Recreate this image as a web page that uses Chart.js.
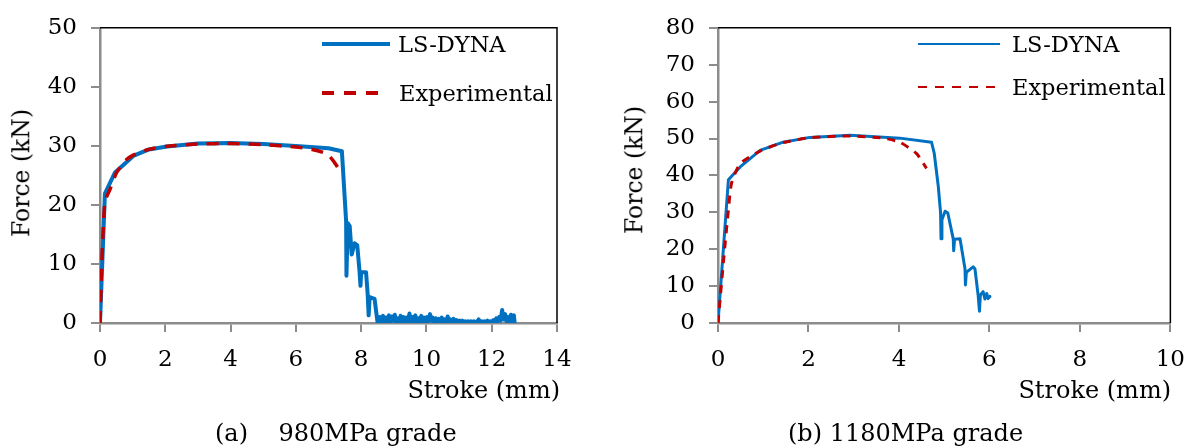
<!DOCTYPE html>
<html lang="en">
<head>
    <meta charset="UTF-8">
    <title>Force vs Stroke</title>
    <script src="https://cdn.jsdelivr.net/npm/chart.js"></script>
    <style>
        body { margin: 0; width: 1199px; height: 447px; background: #fff; position: relative; overflow: hidden;
               font-family: 'DejaVu Serif', 'Liberation Serif', serif; color: #000; }
        canvas { position: absolute; top: 0; }
        .txt { position: absolute; white-space: pre; line-height: 1; transform: translateY(-50%); }
        .ytitle { position: absolute; white-space: pre; line-height: 1; transform: translate(-50%, -50%) rotate(-90deg); }
        .leg { position: absolute; font-size: 22.5px; }
        svg { position: absolute; }
    </style>
</head>
<body>
    <canvas id="chartA" width="600" height="447" style="left:0"></canvas>
    <canvas id="chartB" width="599" height="447" style="left:600px"></canvas>

    <!-- axis titles -->
    <div class="ytitle" style="left:22px; top:173px; font-size:23.5px;">Force (kN)</div>
    <div class="ytitle" style="left:635px; top:170px; font-size:23.5px;">Force (kN)</div>
    <div class="txt" style="right:639px; top:390px; font-size:24px;">Stroke (mm)</div>
    <div class="txt" style="right:28px; top:390px; font-size:24px;">Stroke (mm)</div>

    <!-- captions -->
    <div class="txt" style="left:215px; top:433px; font-size:24px;">(a)    980MPa grade</div>
    <div class="txt" style="left:788px; top:433px; font-size:24px;">(b) 1180MPa grade</div>

    <!-- legends -->
    <svg style="left:322px; top:38px" width="70" height="12"><line x1="0" y1="6" x2="68" y2="6" stroke="#0070C0" stroke-width="4"/></svg>
    <div class="txt leg" style="left:398px; top:44px;">LS-DYNA</div>
    <svg style="left:322px; top:87px" width="70" height="12"><line x1="0" y1="6" x2="58" y2="6" stroke="#C00000" stroke-width="4" stroke-dasharray="12 10"/></svg>
    <div class="txt leg" style="left:399px; top:93px;">Experimental</div>

    <svg style="left:918px; top:38px" width="84" height="12"><line x1="0" y1="6" x2="82" y2="6" stroke="#0070C0" stroke-width="2"/></svg>
    <div class="txt leg" style="left:1012px; top:44px;">LS-DYNA</div>
    <svg style="left:918px; top:81px" width="84" height="12"><line x1="0" y1="6" x2="82" y2="6" stroke="#C00000" stroke-width="2" stroke-dasharray="9 8"/></svg>
    <div class="txt leg" style="left:1012px; top:87px;">Experimental</div>

    <script>
        // (a) 980MPa grade - LS-DYNA
        const strokeA_sim = [0, 0.15, 0.46, 1.02, 1.5, 2.05, 3, 4, 5, 6, 7, 7.41,
            7.54, 7.55, 7.59, 7.65, 7.71, 7.8, 7.88, 7.95, 7.98, 8.0, 8.15, 8.2, 8.23, 8.26, 8.41, 8.5,
            8.53, 8.58, 8.62, 8.67, 8.71, 8.76, 8.80, 8.85, 8.89, 8.94, 8.98, 9.03, 9.07, 9.12, 9.16, 9.21,
            9.25, 9.30, 9.34, 9.39, 9.43, 9.48, 9.52, 9.57, 9.61, 9.66, 9.70, 9.75, 9.79, 9.84, 9.88, 9.93,
            9.97, 10.02, 10.06, 10.11, 10.15, 10.20, 10.24, 10.29, 10.33, 10.38, 10.42, 10.47, 10.51, 10.56,
            10.60, 10.65, 10.69, 10.74, 10.78, 10.83, 10.87, 10.92, 10.96, 11.01, 11.05, 11.10, 11.14, 11.19,
            11.23, 11.28, 11.32, 11.37, 11.41, 11.46, 11.50, 11.55, 11.60, 11.64, 11.69, 11.73, 11.78, 11.82,
            11.87, 11.91, 11.96, 12.00, 12.05, 12.09, 12.14, 12.18, 12.23, 12.27, 12.32, 12.36, 12.41, 12.45,
            12.50, 12.54, 12.59, 12.63, 12.68, 12.70];
        const forceA_sim = [0, 21.9, 25.5, 28.3, 29.4, 29.9, 30.4, 30.5, 30.3, 30.0, 29.6, 29.1,
            17.2, 8.0, 16.9, 16.4, 11.6, 13.5, 13.2, 8.8, 6.3, 8.6, 8.6, 4.9, 1.3, 4.4, 4.1, 0.2,
            0.2, 1.0, 0.3, 1.2, 0.2, 0.9, 0.3, 1.3, 0.2, 1.1, 0.4, 1.4, 0.2, 0.8, 0.3, 1.2,
            0.2, 1.0, 0.3, 0.9, 0.2, 1.6, 0.3, 1.0, 0.2, 1.3, 0.3, 0.8, 0.2, 1.2, 0.3, 0.9,
            0.2, 1.0, 0.3, 1.5, 0.4, 0.9, 0.2, 0.8, 0.3, 0.7, 0.2, 0.9, 0.3, 0.6,
            0.2, 1.1, 0.3, 0.6, 0.2, 0.7, 0.2, 0.5, 0.2, 0.4, 0.1, 0.4, 0.1, 0.3,
            0.1, 0.3, 0.1, 0.3, 0.1, 0.3, 0.1, 0.2, 0.6, 0.1, 0.3, 0.1, 0.3, 0.1,
            0.4, 0.1, 0.3, 0.1, 0.5, 0.2, 0.8, 0.3, 1.0, 0.4, 2.2, 0.6, 1.5, 0.3,
            1.0, 0.2, 1.4, 0.3, 1.3, 0.1];
        // (a) Experimental
        const strokeA_exp = [0, 0.05, 0.15, 0.31, 0.51, 0.8, 1.0, 1.5, 2.0, 3.0, 4.0, 5.0, 6.0, 6.5, 6.97, 7.18, 7.3, 7.38];
        const forceA_exp = [0, 9.4, 20.5, 22.7, 25.5, 27.6, 28.4, 29.4, 29.9, 30.3, 30.4, 30.2, 29.8, 29.4, 28.6, 27.2, 26.2, 25.3];

        // (b) 1180MPa grade - LS-DYNA
        const strokeB_sim = [0, 0.23, 0.49, 0.93, 1.44, 2.03, 2.92, 4.02, 4.72, 4.78, 4.87, 4.92, 4.93, 4.95,
            5.02, 5.08, 5.2, 5.21, 5.23, 5.35, 5.46, 5.47, 5.49, 5.64, 5.68, 5.75, 5.78, 5.8, 5.86, 5.9, 5.94, 5.97, 6.01];
        const forceB_sim = [0, 38.8, 42.3, 46.8, 49.0, 50.3, 50.9, 50.1, 49.0, 46.0, 37.0, 29.9, 22.8, 28.0,
            30.3, 29.8, 22.8, 19.6, 22.7, 22.8, 14.7, 10.3, 13.7, 15.2, 14.7, 7.6, 3.2, 7.6, 8.5, 6.5, 8.0, 6.6, 7.2];
        // (b) Experimental
        const strokeB_exp = [0, 0.12, 0.23, 0.3, 0.49, 0.93, 1.44, 2.03, 2.92, 3.65, 4.02, 4.39, 4.61];
        const forceB_exp = [0, 16.5, 30.7, 37.9, 43.2, 46.6, 48.9, 50.2, 50.7, 50.1, 49.0, 45.9, 41.9];

        const xTicksA = [0, 2, 4, 6, 8, 10, 12, 14];
        const yTicksA = [0, 10, 20, 30, 40, 50];
        const xTicksB = [0, 2, 4, 6, 8, 10];
        const yTicksB = [0, 10, 20, 30, 40, 50, 60, 70, 80];

        const pts = (xs, ys) => xs.map((x, i) => ({ x: x, y: ys[i] }));

        // top and right frame lines in black
        const frame = {
            id: 'frame',
            afterDraw(chart) {
                const a = chart.chartArea, ctx = chart.ctx;
                ctx.save();
                ctx.strokeStyle = '#000';
                ctx.lineWidth = 1.5;
                ctx.beginPath();
                ctx.moveTo(a.left, a.top);
                ctx.lineTo(a.right, a.top);
                ctx.lineTo(a.right, a.bottom);
                ctx.stroke();
                ctx.restore();
            }
        };

        function axis(ticks, stepFit) {
            return {
                type: 'linear',
                min: ticks[0],
                max: ticks[ticks.length - 1],
                afterBuildTicks: s => { s.ticks = ticks.map(v => ({ value: v })); },
                afterFit: stepFit,
                ticks: { color: '#000', font: { family: 'DejaVu Serif', size: 23 }, padding: 14, maxRotation: 0, autoSkip: false },
                grid: { drawOnChartArea: false, tickLength: 9, color: '#8c8c8c', lineWidth: 2 },
                border: { color: '#8c8c8c', width: 2.5 }
            };
        }

        function makeChart(id, sim, exp, xT, yT, yW, pad, w1, w2, dash) {
            new Chart(document.getElementById(id), {
                type: 'line',
                data: {
                    datasets: [
                        { label: 'Experimental', data: exp, borderColor: '#C00000', borderWidth: w2, borderDash: dash, pointRadius: 0, tension: 0.2, order: 1 },
                        { label: 'LS-DYNA', data: sim, borderColor: '#0070C0', borderWidth: w1, pointRadius: 0, tension: 0,
                          borderJoinStyle: 'round', borderCapStyle: 'round', order: 2 }
                    ]
                },
                options: {
                    responsive: false,
                    animation: false,
                    layout: { padding: pad },
                    plugins: { legend: { display: false }, tooltip: { enabled: false } },
                    scales: {
                        x: axis(xT, s => { s.height = 124; }),
                        y: axis(yT, s => { s.width = yW; })
                    }
                },
                plugins: [frame]
            });
        }

        makeChart('chartA', pts(strokeA_sim, forceA_sim), pts(strokeA_exp, forceA_exp),
            xTicksA, yTicksA, 100, { top: 23, right: 43, left: 0, bottom: 0 }, 4, 3.5, [12, 9]);
        makeChart('chartB', pts(strokeB_sim, forceB_sim), pts(strokeB_exp, forceB_exp),
            xTicksB, yTicksB, 118, { top: 22, right: 27, left: 0, bottom: 0 }, 3, 3, [8, 7]);
    </script>
</body>
</html>
